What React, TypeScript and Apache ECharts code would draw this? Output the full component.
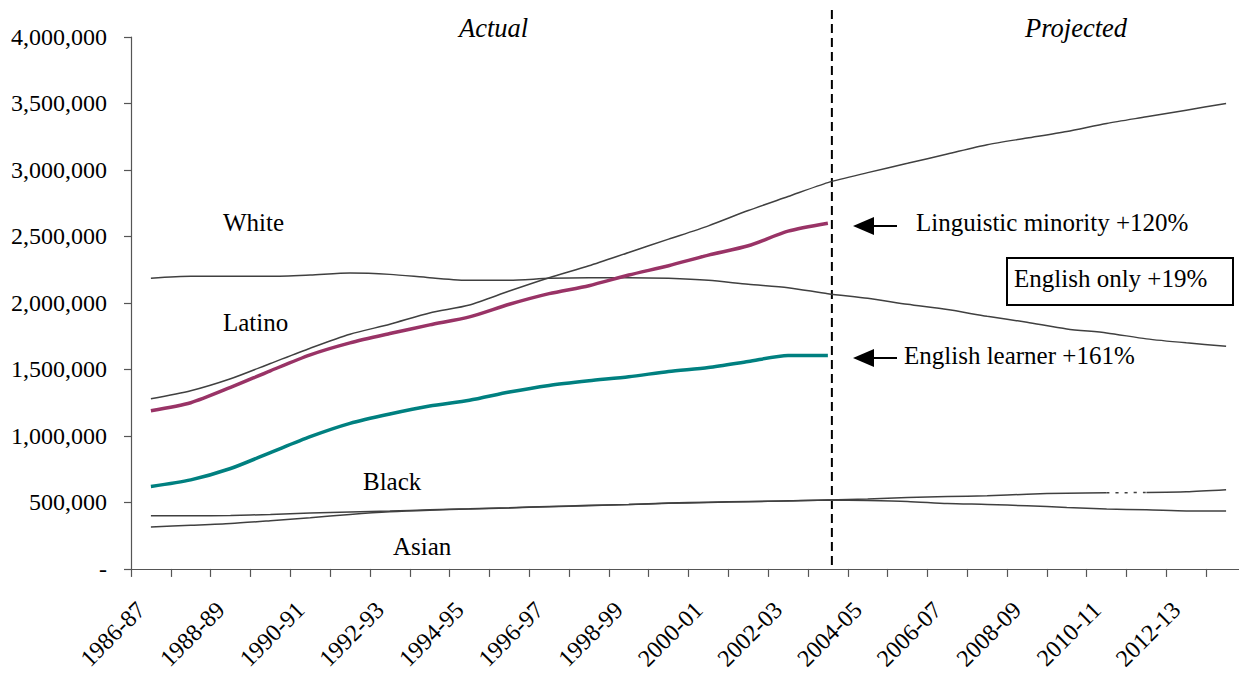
import React, { useEffect, useRef } from "react";
import * as echarts from "echarts";

const categories = [
  "1986-87", "1987-88", "1988-89", "1989-90", "1990-91", "1991-92", "1992-93",
  "1993-94", "1994-95", "1995-96", "1996-97", "1997-98", "1998-99", "1999-00",
  "2000-01", "2001-02", "2002-03", "2003-04", "2004-05", "2005-06", "2006-07",
  "2007-08", "2008-09", "2009-10", "2010-11", "2011-12", "2012-13", "2013-14",
];

const white = [
  2185000, 2200000, 2200000, 2200000, 2210000, 2225000, 2215000, 2190000, 2170000, 2170000,
  2185000, 2190000, 2190000, 2185000, 2170000, 2140000, 2115000, 2070000, 2035000, 1990000,
  1950000, 1900000, 1855000, 1805000, 1775000, 1730000, 1700000, 1675000,
];

const latino = [
  1280000, 1340000, 1430000, 1545000, 1660000, 1765000, 1840000, 1925000, 1985000, 2090000,
  2190000, 2280000, 2380000, 2480000, 2580000, 2695000, 2800000, 2905000, 2980000, 3050000,
  3120000, 3190000, 3240000, 3290000, 3350000, 3400000, 3450000, 3500000,
];

const black = [
  400000, 400000, 402000, 410000, 420000, 428000, 435000, 445000, 452000, 460000,
  470000, 478000, 485000, 495000, 502000, 507000, 512000, 518000, 515000, 508000,
  492000, 485000, 475000, 462000, 450000, 445000, 436000, 435000,
];

const asian = [
  316000, 328000, 341000, 362000, 385000, 410000, 430000, 442000, 450000, 458000,
  468000, 476000, 484000, 493000, 500000, 506000, 511000, 518000, 525000, 537000,
  545000, 550000, 562000, 570000, 572000, 575000, 580000, 595000,
];

const linguisticMinority = [
  1190000, 1250000, 1365000, 1490000, 1610000, 1700000, 1770000, 1835000, 1895000, 1990000,
  2070000, 2130000, 2210000, 2280000, 2360000, 2430000, 2540000, 2600000,
];

const englishLearner = [
  620000, 670000, 755000, 875000, 995000, 1095000, 1165000, 1225000, 1268000, 1330000,
  1380000, 1415000, 1445000, 1485000, 1515000, 1560000, 1605000, 1605000,
];

const DOT_START = 24; // dotted segment of the Asian series between index 24 and 25

const FONT = "Liberation Serif";

export default function App() {
  const ref = useRef<HTMLDivElement>(null);

  useEffect(() => {
    if (!ref.current) return;
    const chart = echarts.init(ref.current, null, { renderer: "svg" });

    const asianA = asian.map((v, i) => (i <= DOT_START ? v : null));
    const asianDot = asian.map((v, i) => (i === DOT_START || i === DOT_START + 1 ? v : null));
    const asianB = asian.map((v, i) => (i >= DOT_START + 1 ? v : null));

    const thin = (name: string, data: (number | null)[], type: any = "solid") => ({
      name,
      type: "line",
      data,
      symbol: "none",
      smooth: 0.25,
      connectNulls: false,
      lineStyle: { color: "#404040", width: 1.5, type },
      silent: true,
    });

    chart.setOption({
      animation: false,
      backgroundColor: "#ffffff",
      grid: { left: 131, right: 0, top: 37, bottom: 100, containLabel: false },
      xAxis: {
        type: "category",
        data: categories,
        boundaryGap: true,
        axisLine: { show: true, lineStyle: { color: "#555", width: 1.2 } },
        axisTick: { show: true, interval: 0, length: 8, inside: false, lineStyle: { color: "#555", width: 1.2 } },
        axisLabel: {
          interval: 1,
          rotate: 45,
          margin: 27,
          padding: [0, 14, 0, 0],
          fontFamily: FONT,
          fontSize: 24,
          color: "#000",
        },
        splitLine: { show: false },
      },
      yAxis: {
        type: "value",
        min: 0,
        max: 4000000,
        interval: 500000,
        axisLine: { show: true, lineStyle: { color: "#555", width: 1.2 } },
        axisTick: { show: true, length: 7, lineStyle: { color: "#555", width: 1.2 } },
        axisLabel: {
          margin: 24,
          fontFamily: FONT,
          fontSize: 24,
          color: "#000",
          formatter: (v: number) => (v === 0 ? "-" : v.toLocaleString("en-US")),
        },
        splitLine: { show: false },
      },
      series: [
        thin("White", white),
        thin("Latino", latino),
        thin("Black", black),
        thin("Asian", asianA),
        thin("Asian (gap)", asianDot, [3, 6]),
        thin("Asian ", asianB),
        {
          name: "Linguistic minority",
          type: "line",
          data: linguisticMinority,
          symbol: "none",
          smooth: 0.25,
          lineStyle: { color: "#993366", width: 3.5 },
        },
        {
          name: "English learner",
          type: "line",
          data: englishLearner,
          symbol: "none",
          smooth: 0.25,
          lineStyle: { color: "#008080", width: 3.5 },
        },
      ],
    });

    const xd = (chart.convertToPixel({ xAxisIndex: 0 }, "2003-04") as number) + 4;
    const y0 = chart.convertToPixel({ yAxisIndex: 0 }, 0) as number;

    const txt = (text: string, x: number, y: number, size = 25, italic = false) => ({
      type: "text",
      x,
      y,
      silent: true,
      style: {
        text,
        fontFamily: FONT,
        fontSize: size,
        fontStyle: italic ? "italic" : "normal",
        fill: "#000",
        align: "left",
        verticalAlign: "middle",
      },
    });

    const arrow = (y: number) => [
      {
        type: "line",
        silent: true,
        shape: { x1: 870, y1: y, x2: 897, y2: y },
        style: { stroke: "#000", lineWidth: 2 },
      },
      {
        type: "polygon",
        silent: true,
        shape: { points: [[853, y], [874, y - 9], [874, y + 9]] },
        style: { fill: "#000" },
      },
    ];

    chart.setOption({
      graphic: [
        {
          type: "line",
          silent: true,
          shape: { x1: xd, y1: 10, x2: xd, y2: y0 },
          style: { stroke: "#000", lineWidth: 2, lineDash: [9, 5] },
        },
        txt("Actual", 459, 28, 26.5, true),
        txt("Projected", 1025, 28, 26.5, true),
        txt("White", 223, 222),
        txt("Latino", 223, 322),
        txt("Black", 363, 481),
        txt("Asian", 393, 546),
        ...arrow(226),
        txt("Linguistic minority +120%", 916, 222),
        {
          type: "rect",
          silent: true,
          shape: { x: 1007, y: 258, width: 226, height: 47 },
          style: { fill: "#fff", stroke: "#000", lineWidth: 2 },
        },
        txt("English only +19%", 1014, 278),
        ...arrow(358),
        txt("English learner +161%", 904, 355),
      ],
    });

    return () => chart.dispose();
  }, []);

  return (
    <div
      style={{
        position: "absolute",
        left: 0,
        top: 0,
        width: 1239,
        height: 673,
        overflow: "hidden",
        background: "#fff",
      }}
    >
      <div ref={ref} style={{ width: 1246, height: 673 }} />
    </div>
  );
}
